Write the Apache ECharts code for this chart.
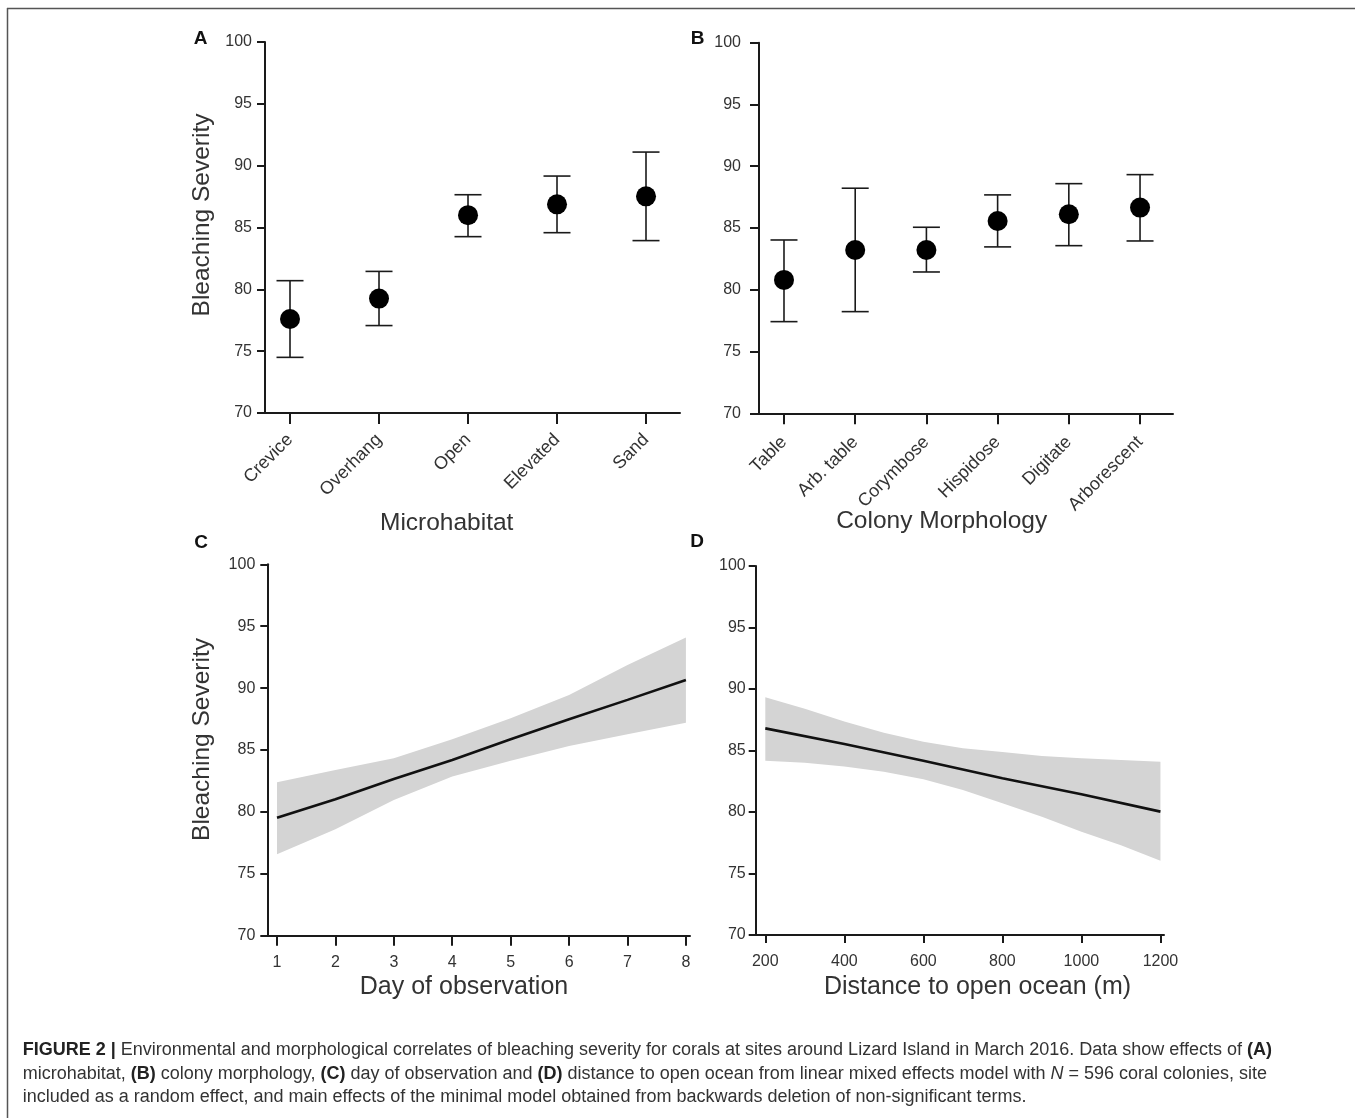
<!DOCTYPE html>
<html><head><meta charset="utf-8">
<script src="https://cdn.jsdelivr.net/npm/echarts@6/dist/echarts.min.js"></script>
<style>html,body{margin:0;padding:0;background:#fff}#c{width:1355px;height:1118px}</style>
</head><body><div id="c"></div>
<script>
// ---------------- data ----------------
const yTicks = [70, 75, 80, 85, 90, 95, 100];

const microhabitats = ['Crevice', 'Overhang', 'Open', 'Elevated', 'Sand'];
const microMean = [77.6, 79.25, 86.0, 86.87, 87.52];
const microLow  = [74.5, 77.07, 84.26, 84.58, 83.94];
const microHigh = [80.7, 81.45, 87.65, 89.16, 91.1];

const morphologies = ['Table', 'Arb. table', 'Corymbose', 'Hispidose', 'Digitate', 'Arborescent'];
const morphMean = [80.8, 83.22, 83.22, 85.57, 86.11, 86.65];
const morphLow  = [77.42, 78.23, 81.44, 83.47, 83.57, 83.95];
const morphHigh = [84.03, 88.22, 85.06, 87.68, 88.59, 89.32];

const days = [1, 2, 3, 4, 5, 6, 7, 8];
const dayFit   = [79.53, 81.02, 82.66, 84.2, 85.87, 87.49, 89.05, 90.66];
const dayUpper = [82.39, 83.39, 84.33, 85.87, 87.56, 89.45, 91.87, 94.08];
const dayLower = [76.57, 78.6, 80.96, 82.85, 84.14, 85.33, 86.27, 87.21];

const distances = [200, 400, 600, 800, 1000, 1200];
const distFit = [86.8, 85.53, 84.17, 82.74, 81.44, 80.03];
const distBandX = [200, 300, 400, 500, 600, 700, 800, 900, 1000, 1100, 1200];
const distUpper = [89.32, 88.4, 87.35, 86.45, 85.72, 85.18, 84.88, 84.55, 84.37, 84.23, 84.09];
const distLower = [84.17, 84.0, 83.69, 83.28, 82.66, 81.79, 80.71, 79.62, 78.4, 77.3, 76.04];

// ---------------- styles ----------------
const FONT = 'Arial, "Liberation Sans", Helvetica, sans-serif';
const AX = '#1a1a1a';
const LBL = '#333';

function yAxis(gi, margin, tickLen) {
  return {
    type: 'value', gridIndex: gi, min: yTicks[0], max: yTicks[yTicks.length - 1], interval: 5,
    axisLine: { show: true, lineStyle: { color: AX, width: 2 } },
    axisTick: { show: true, length: tickLen, lineStyle: { color: AX, width: 2 } },
    axisLabel: { color: LBL, fontSize: 16, fontFamily: FONT, margin: margin },
    splitLine: { show: false }
  };
}
function catIdx(arr) { return arr.map((_, i) => i + 1); }

function xAxisCat(gi, cats, min, max, tickLen, margin) {
  const vals = catIdx(cats);
  return {
    type: 'value', gridIndex: gi, min: min, max: max,
    axisLine: { show: true, onZero: false, lineStyle: { color: AX, width: 2 } },
    axisTick: { show: true, length: tickLen, customValues: vals, lineStyle: { color: AX, width: 2 } },
    axisLabel: { show: true, customValues: vals, rotate: 45, margin: margin, color: LBL, fontSize: 18, fontFamily: FONT,
      formatter: v => cats[Math.round(v) - 1] || '' },
    splitLine: { show: false }
  };
}
function xAxisNum(gi, ticks, min, max, tickLen, margin) {
  return {
    type: 'value', gridIndex: gi, min: min, max: max,
    axisLine: { show: true, onZero: false, lineStyle: { color: AX, width: 2 } },
    axisTick: { show: true, length: tickLen, customValues: ticks, lineStyle: { color: AX, width: 2 } },
    axisLabel: { show: true, customValues: ticks, margin: margin, color: LBL, fontSize: 16, fontFamily: FONT,
      formatter: v => String(v) },
    splitLine: { show: false }
  };
}

function errorBars(idx, xs, lows, highs) {
  return {
    type: 'custom', xAxisIndex: idx, yAxisIndex: idx, z: 3,
    data: xs.map((x, i) => [x, lows[i], highs[i]]),
    encode: { x: 0, y: [1, 2] },
    renderItem: (params, api) => {
      const x = api.value(0);
      const lo = api.coord([x, api.value(1)]);
      const hi = api.coord([x, api.value(2)]);
      const w = 13.5;
      const st = { stroke: AX, lineWidth: 1.6 };
      return { type: 'group', children: [
        { type: 'line', shape: { x1: lo[0], y1: lo[1], x2: hi[0], y2: hi[1] }, style: st },
        { type: 'line', shape: { x1: lo[0] - w, y1: lo[1], x2: lo[0] + w, y2: lo[1] }, style: st },
        { type: 'line', shape: { x1: hi[0] - w, y1: hi[1], x2: hi[0] + w, y2: hi[1] }, style: st }
      ]};
    }
  };
}
function points(idx, xs, ys) {
  return { type: 'scatter', xAxisIndex: idx, yAxisIndex: idx, z: 4, symbol: 'circle', symbolSize: 20,
    itemStyle: { color: '#000', opacity: 1 }, data: xs.map((x, i) => [x, ys[i]]) };
}
function band(idx, xs, lower, upper) {
  return {
    type: 'custom', xAxisIndex: idx, yAxisIndex: idx, z: 1,
    data: xs.map((x, i) => [x, lower[i], upper[i]]),
    encode: { x: 0, y: [1, 2] },
    renderItem: (params, api) => {
      if (params.dataIndex !== 0) return;
      const top = xs.map((x, i) => api.coord([x, upper[i]]));
      const bot = xs.map((x, i) => api.coord([x, lower[i]])).reverse();
      return { type: 'polygon', shape: { points: top.concat(bot) }, style: { fill: '#d4d4d4' } };
    }
  };
}
function fitLine(idx, xs, ys) {
  return { type: 'line', xAxisIndex: idx, yAxisIndex: idx, z: 2, symbol: 'none', silent: true,
    lineStyle: { color: '#111', width: 2.6 }, data: xs.map((x, i) => [x, ys[i]]) };
}

function txt(x, y, text, size, opts) {
  return Object.assign({ type: 'text', x: x, y: y, silent: true,
    style: { text: text, font: (opts && opts.bold ? 'bold ' : '') + size + 'px ' + FONT,
      fill: (opts && opts.fill) || LBL, align: 'center', verticalAlign: 'middle' } },
    opts && opts.rot ? { rotation: opts.rot } : {});
}
function capLine(y, text) {
  return { type: 'text', x: 22.7, y: y, silent: true,
    style: { text: text, fontSize: 18, fontFamily: FONT, fill: '#333', align: 'left', verticalAlign: 'middle',
      rich: {
        b: { fontSize: 18, fontFamily: FONT, fontWeight: 'bold', fill: '#222' },
        i: { fontSize: 18, fontFamily: FONT, fontStyle: 'italic', fill: '#333' }
      } } };
}

const option = {
  backgroundColor: '#fff',
  animation: false,
  grid: [
    { left: 265, top: 42, width: 415, height: 371 },
    { left: 759, top: 42.7, width: 414, height: 370.6 },
    { left: 267.3, top: 564.3, width: 422.7, height: 371.4 },
    { left: 755.7, top: 566, width: 408.3, height: 369 }
  ],
  xAxis: [
    xAxisCat(0, microhabitats, 0.719, 5.382, 11, 24),
    xAxisCat(1, morphologies, 0.649, 6.463, 11, 26),
    xAxisNum(2, days, 0.834, 8.07, 10, 19),
    xAxisNum(3, distances, 175.7, 1209, 8, 19)
  ],
  yAxis: [yAxis(0, 13, 8), yAxis(1, 18, 9), yAxis(2, 12, 7), yAxis(3, 10, 7)],
  series: [
    errorBars(0, catIdx(microhabitats), microLow, microHigh),
    points(0, catIdx(microhabitats), microMean),
    errorBars(1, catIdx(morphologies), morphLow, morphHigh),
    points(1, catIdx(morphologies), morphMean),
    band(2, days, dayLower, dayUpper),
    fitLine(2, days, dayFit),
    band(3, distBandX, distLower, distUpper),
    fitLine(3, distances, distFit)
  ],
  graphic: [
    { type: 'line', silent: true, shape: { x1: 7, y1: 8.5, x2: 1355, y2: 8.5 }, style: { stroke: '#555', lineWidth: 1.5 } },
    { type: 'line', silent: true, shape: { x1: 7.5, y1: 8, x2: 7.5, y2: 1118 }, style: { stroke: '#555', lineWidth: 1.5 } },
    txt(200.5, 39, 'A', 19, { bold: true, fill: '#111' }),
    txt(697.5, 38.5, 'B', 19, { bold: true, fill: '#111' }),
    txt(201, 542.5, 'C', 19, { bold: true, fill: '#111' }),
    txt(697, 541.5, 'D', 19, { bold: true, fill: '#111' }),
    txt(202.5, 215, 'Bleaching Severity', 24.5, { rot: Math.PI / 2 }),
    txt(202.5, 739.5, 'Bleaching Severity', 24.5, { rot: Math.PI / 2 }),
    txt(446.7, 523, 'Microhabitat', 24.5),
    txt(941.7, 521, 'Colony Morphology', 24.5),
    txt(464, 987, 'Day of observation', 25),
    txt(977.5, 987, 'Distance to open ocean (m)', 25),
    capLine(1050.5, '{b|FIGURE 2 |} Environmental and morphological correlates of bleaching severity for corals at sites around Lizard Island in March 2016. Data show effects of {b|(A)}'),
    capLine(1074, 'microhabitat, {b|(B)} colony morphology, {b|(C)} day of observation and {b|(D)} distance to open ocean from linear mixed effects model with {i|N} = 596 coral colonies, site'),
    capLine(1097, 'included as a random effect, and main effects of the minimal model obtained from backwards deletion of non-significant terms.')
  ]
};

const chart = echarts.init(document.getElementById('c'), null, { renderer: 'canvas' });
chart.setOption(option);
</script>
</body></html>
